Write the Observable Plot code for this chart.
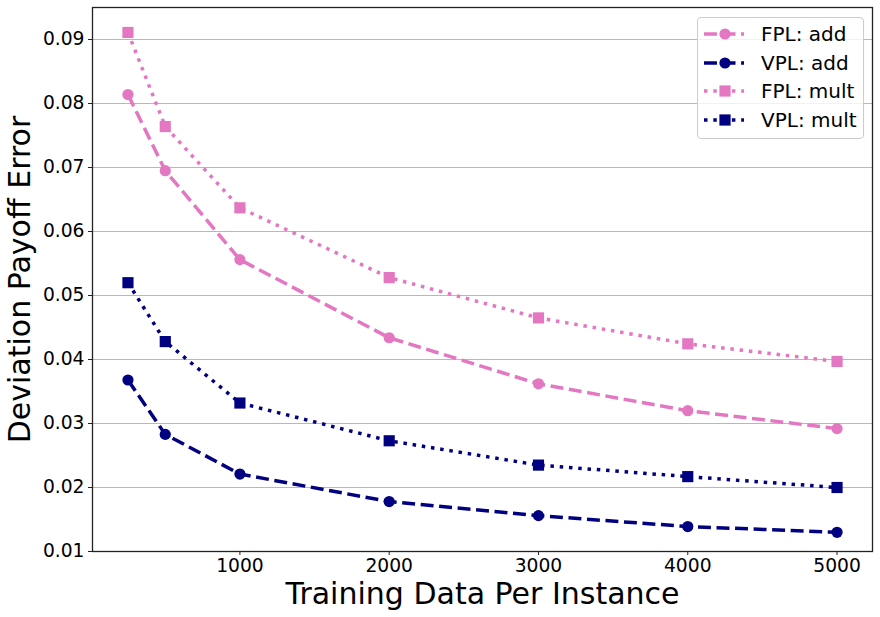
<!DOCTYPE html>
<html>
<head>
<meta charset="utf-8">
<script src="https://cdn.jsdelivr.net/npm/d3@7"></script>
<script src="https://cdn.jsdelivr.net/npm/@observablehq/plot@0.6"></script>
<style>
  html, body { margin: 0; padding: 0; background: #fff; }
  #wrap { position: relative; width: 880px; height: 617px; font-family: "DejaVu Sans", sans-serif; }
  #legend { position: absolute; left: 697px; top: 17px; width: 165px; height: 120px;
    background: rgba(255,255,255,0.8); border: 1px solid #cccccc; border-radius: 4px; box-sizing: content-box; }
  .row { position: absolute; left: 0; height: 28px; }
  .row span { position: absolute; left: 63px; font-size: 20px; color: #000; white-space: nowrap; line-height: 22px; top: 3px; }
</style>
</head>
<body>
<div id="wrap"></div>
<script>
const sizes = [250, 500, 1000, 2000, 3000, 4000, 5000];
const fplAdd  = [0.0814, 0.0695, 0.0556, 0.0434, 0.0362, 0.0320, 0.0292];
const vplAdd  = [0.0368, 0.0283, 0.0221, 0.0178, 0.0156, 0.0139, 0.0130];
const fplMult = [0.0911, 0.0764, 0.0637, 0.0528, 0.0465, 0.04245, 0.0397];
const vplMult = [0.0520, 0.0428, 0.0332, 0.0273, 0.0235, 0.0217, 0.0200];
const seriesNames = ["FPL: add", "VPL: add", "FPL: mult", "VPL: mult"];
const xTicks = [1000, 2000, 3000, 4000, 5000];
const yTicks = [0.01, 0.02, 0.03, 0.04, 0.05, 0.06, 0.07, 0.08, 0.09];
const xLabel = "Training Data Per Instance";
const yLabel = "Deviation Payoff Error";

const pink = "#e377c2", navy = "#000080";
const styles = [
  {color: pink, dash: "12.95 5.6", symbol: "circle", r: 5.6},
  {color: navy, dash: "12.95 5.6", symbol: "circle", r: 5.6},
  {color: pink, dash: "3.5 5.8", symbol: "square", r: 6.3},
  {color: navy, dash: "3.5 5.8", symbol: "square", r: 6.3}
];
const allValues = [fplAdd, vplAdd, fplMult, vplMult];
const series = seriesNames.map((name, i) => ({
  name, style: styles[i],
  data: sizes.map((x, j) => ({x, y: allValues[i][j]}))
}));

const marks = [
  Plot.ruleY(yTicks, {stroke: "#b8b8b8", strokeWidth: 1}),
];
for (const s of series) {
  marks.push(Plot.line(s.data, {x: "x", y: "y", stroke: s.style.color, strokeWidth: 3.5,
    strokeDasharray: s.style.dash, strokeLinecap: "butt", strokeLinejoin: "round"}));
  marks.push(Plot.dot(s.data, {x: "x", y: "y", fill: s.style.color, stroke: "none",
    symbol: s.style.symbol, r: s.style.r}));
}
marks.push(
  Plot.frame({stroke: "#222", strokeWidth: 1.3}),
  Plot.axisX(xTicks, {tickSize: 4, tickPadding: 3, fontSize: 18.7, label: null, tickFormat: d3.format("d"), stroke: "#222"}),
  Plot.axisY(yTicks, {tickSize: 4, tickPadding: 4, fontSize: 18.7, label: null, tickFormat: d3.format(".2f"), stroke: "#222"}),
  Plot.text([xLabel], {frameAnchor: "bottom", dy: 43, fontSize: 30, fill: "#000", textAnchor: "middle", lineAnchor: "middle"}),
  Plot.text([yLabel], {frameAnchor: "left", dx: -72, rotate: -90, fontSize: 30, fill: "#000", textAnchor: "middle", lineAnchor: "middle"})
);

const chart = Plot.plot({
  width: 880, height: 617,
  marginLeft: 92, marginRight: 8, marginTop: 7, marginBottom: 66,
  style: {fontFamily: "DejaVu Sans, sans-serif", color: "#000", background: "#fff", overflow: "visible"},
  x: {type: "linear", domain: [12.5, 5237.5]},
  y: {type: "linear", domain: [0.01, 0.095]},
  marks
});
const wrap = document.getElementById("wrap");
wrap.appendChild(chart);

// legend
const legend = document.createElement("div");
legend.id = "legend";
series.forEach((s, i) => {
  const row = document.createElement("div");
  row.className = "row";
  row.style.top = (2 + i * 28.7) + "px";
  const ns = "http://www.w3.org/2000/svg";
  const svg = document.createElementNS(ns, "svg");
  svg.setAttribute("width", 60); svg.setAttribute("height", 28);
  svg.style.position = "absolute"; svg.style.left = "0px"; svg.style.top = "0px";
  const ln = document.createElementNS(ns, "line");
  ln.setAttribute("x1", 6); ln.setAttribute("x2", 46); ln.setAttribute("y1", 14); ln.setAttribute("y2", 14);
  ln.setAttribute("stroke", s.style.color); ln.setAttribute("stroke-width", 3.5);
  ln.setAttribute("stroke-dasharray", s.style.dash);
  svg.appendChild(ln);
  if (s.style.symbol === "circle") {
    const c = document.createElementNS(ns, "circle");
    c.setAttribute("cx", 27); c.setAttribute("cy", 14); c.setAttribute("r", 5.6);
    c.setAttribute("fill", s.style.color); svg.appendChild(c);
  } else {
    const r = document.createElementNS(ns, "rect");
    r.setAttribute("x", 27 - 5.6); r.setAttribute("y", 14 - 5.6); r.setAttribute("width", 11.2); r.setAttribute("height", 11.2);
    r.setAttribute("fill", s.style.color); svg.appendChild(r);
  }
  row.appendChild(svg);
  const sp = document.createElement("span");
  sp.textContent = s.name;
  row.appendChild(sp);
  legend.appendChild(row);
});
wrap.appendChild(legend);
</script>
</body>
</html>
